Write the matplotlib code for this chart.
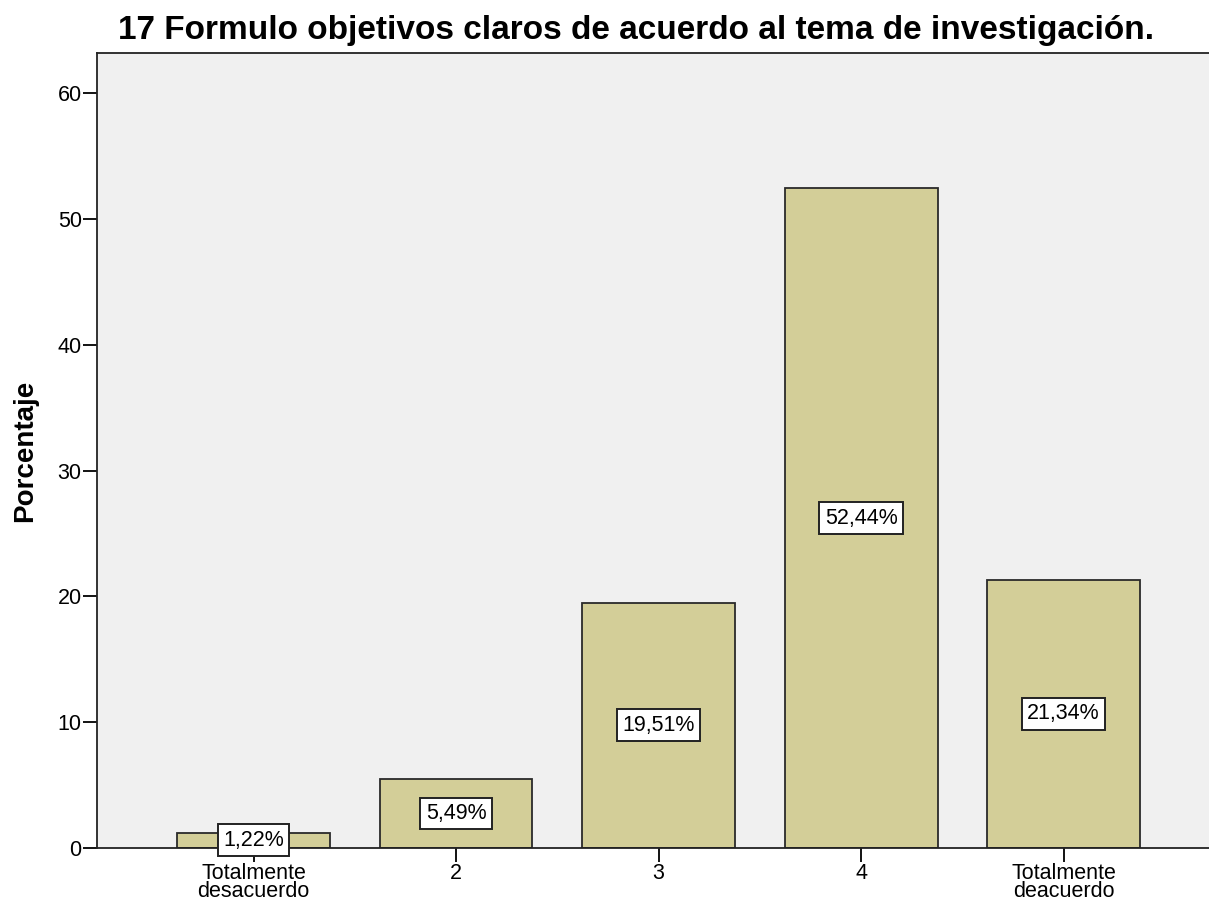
import matplotlib.pyplot as plt

categories = ['Totalmente\ndesacuerdo', '2', '3', '4', 'Totalmente\ndeacuerdo']
percentages = [1.22, 5.49, 19.51, 52.44, 21.34]
y_ticks = [0, 10, 20, 30, 40, 50, 60]

plt.rcParams['font.family'] = ['Liberation Sans', 'DejaVu Sans']

fig = plt.figure(figsize=(12.09, 9.05), dpi=100)
ax = fig.add_axes([0.0802, 0.063, 0.9198, 0.8786])
ax.set_facecolor('#f0f0f0')

x = list(range(len(categories)))
ax.bar(x, percentages, width=0.755, color='#d3ce98', edgecolor='#2a2a2a', linewidth=1.3, zorder=2)

for xi, val in zip(x, percentages):
    label = f'{val:.2f}%'.replace('.', ',')
    ax.text(xi, val / 2, label, ha='center', va='center', fontsize=15.5, zorder=3,
            bbox=dict(boxstyle='square,pad=0.25', facecolor='white', edgecolor='#222222', linewidth=1.4))

ax.set_xlim(-0.773, 4.718)
ax.set_ylim(0, 63.2)
ax.set_xticks(x)
ax.set_xticklabels(categories, fontsize=15.5, linespacing=0.8)
ax.set_yticks(y_ticks)
ax.tick_params(axis='y', labelsize=15.5, length=10, width=1.3, direction='out', pad=1)
ax.tick_params(axis='x', length=10, width=1.3, direction='out', pad=1)

for side in ['left', 'top', 'bottom']:
    ax.spines[side].set_color('#222222')
    ax.spines[side].set_linewidth(1.3)
ax.spines['right'].set_visible(False)

ax.set_ylabel('Porcentaje', fontsize=20, fontweight='bold', labelpad=14)
fig.text(0.526, 0.966, '17 Formulo objetivos claros de acuerdo al tema de investigación.',
         ha='center', va='center', fontsize=24, fontweight='bold')

plt.savefig('out.png', dpi=100)
